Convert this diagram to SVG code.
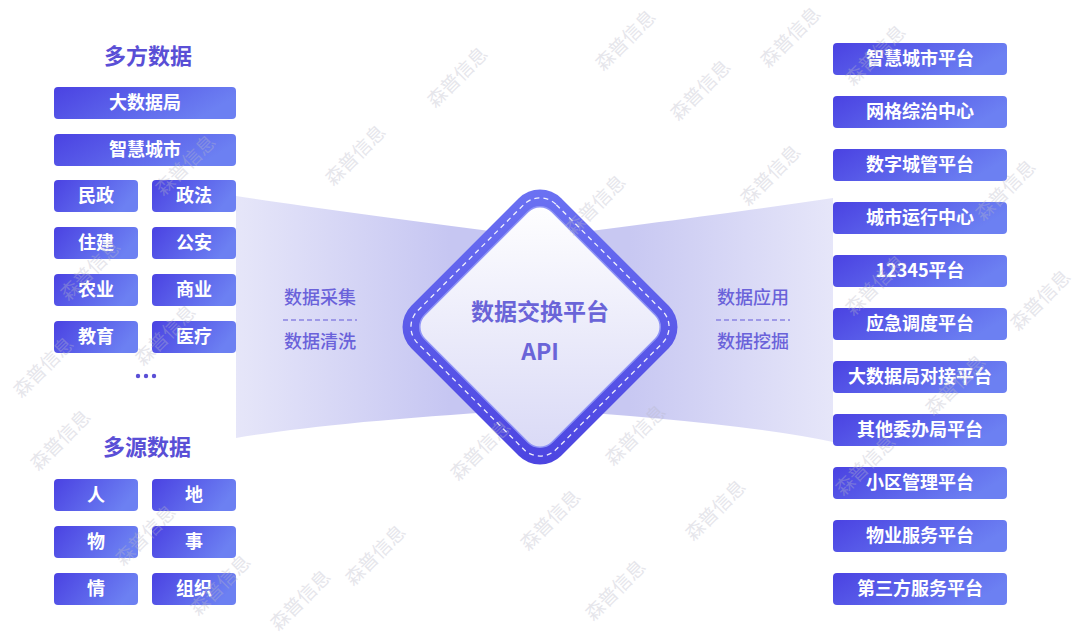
<svg xmlns="http://www.w3.org/2000/svg" width="1080" height="639" viewBox="0 0 1080 639">
<defs>
<linearGradient id="boxg" x1="0" y1="0" x2="1" y2="0.3">
<stop offset="0" stop-color="#4a42e2"/>
<stop offset="1" stop-color="#6c80f2"/>
</linearGradient>
<linearGradient id="bandL" gradientUnits="userSpaceOnUse" x1="236" y1="0" x2="450" y2="0">
<stop offset="0" stop-color="#e6e6f9"/>
<stop offset="1" stop-color="#c6c6f2"/>
</linearGradient>
<linearGradient id="bandR" gradientUnits="userSpaceOnUse" x1="833" y1="0" x2="630" y2="0">
<stop offset="0" stop-color="#e6e6f9"/>
<stop offset="1" stop-color="#c8c8f2"/>
</linearGradient>
<linearGradient id="rimg" x1="0" y1="0" x2="1" y2="1">
<stop offset="0" stop-color="#6c73f3"/>
<stop offset="1" stop-color="#4b43e0"/>
</linearGradient>
<linearGradient id="innerg" x1="0" y1="0" x2="1" y2="1">
<stop offset="0" stop-color="#ffffff"/>
<stop offset="1" stop-color="#d9d9f6"/>
</linearGradient>
<style>
.box{fill:url(#boxg);}
.bt{font-family:"Noto Sans CJK SC","Liberation Sans",sans-serif;font-weight:700;font-size:18px;fill:#ffffff;text-anchor:middle;}
.title{font-family:"Noto Sans CJK SC","Liberation Sans",sans-serif;font-weight:700;font-size:22px;fill:#5a4fd6;text-anchor:middle;}
.lab{font-family:"Noto Sans CJK SC","Liberation Sans",sans-serif;font-weight:500;font-size:18px;fill:#6a62da;text-anchor:middle;}
.ctr{font-family:"Noto Sans CJK SC","Liberation Sans",sans-serif;font-weight:700;font-size:23px;fill:#6a64d8;text-anchor:middle;}
.dl{stroke:#8a84e2;stroke-width:1.3;stroke-dasharray:5 3;fill:none;}
.wm{font-family:"Noto Sans CJK SC","Liberation Sans",sans-serif;font-size:19px;fill:#b8b8c8;opacity:0.35;text-anchor:middle;}
</style>
</defs>
<rect width="1080" height="639" fill="#ffffff"/>

<g id="connectors">
<path d="M236,196 Q340,212 560,240 L560,408 Q340,420 236,438 Z" fill="url(#bandL)"/>
<path d="M833,198 Q740,212 520,240 L520,408 Q740,422 833,442 Z" fill="url(#bandR)"/>
</g>

<g id="label-left">
<text class="lab" x="320" y="304">数据采集</text>
<line class="dl" x1="283" y1="320" x2="357" y2="320"/>
<text class="lab" x="320" y="348">数据清洗</text>
</g>
<g id="label-right">
<text class="lab" x="753" y="304">数据应用</text>
<line class="dl" x1="716" y1="320" x2="790" y2="320"/>
<text class="lab" x="753" y="348">数据挖掘</text>
</g>

<g id="hub">
<g transform="translate(540,327) rotate(45)">
<rect x="-106" y="-106" width="212" height="212" rx="30" fill="url(#rimg)"/>
<rect x="-98" y="-98" width="196" height="196" rx="23" fill="none" stroke="#ffffff" stroke-width="1.3" stroke-dasharray="5 4" opacity="0.9"/>
<rect x="-90" y="-90" width="180" height="180" rx="17" fill="url(#innerg)" stroke="#8f94f6" stroke-width="1.5"/>
</g>
<text class="ctr" x="540" y="320">数据交换平台</text>
<text class="ctr" x="540" y="360">API</text>
</g>

<g id="group-multi-party">
<text class="title" x="148" y="64">多方数据</text>
<g id="n-dsjj"><rect class="box" x="54" y="87" width="182" height="32" rx="4"/><text class="bt" x="145" y="109">大数据局</text></g>
<g id="n-zhcs"><rect class="box" x="54" y="134" width="182" height="32" rx="4"/><text class="bt" x="145" y="156">智慧城市</text></g>
<g id="n-mz"><rect class="box" x="54" y="180" width="84" height="32" rx="4"/><text class="bt" x="96" y="202">民政</text></g>
<g id="n-zf"><rect class="box" x="152" y="180" width="84" height="32" rx="4"/><text class="bt" x="194" y="202">政法</text></g>
<g id="n-zj"><rect class="box" x="54" y="227" width="84" height="32" rx="4"/><text class="bt" x="96" y="249">住建</text></g>
<g id="n-ga"><rect class="box" x="152" y="227" width="84" height="32" rx="4"/><text class="bt" x="194" y="249">公安</text></g>
<g id="n-ny"><rect class="box" x="54" y="274" width="84" height="32" rx="4"/><text class="bt" x="96" y="296">农业</text></g>
<g id="n-sy"><rect class="box" x="152" y="274" width="84" height="32" rx="4"/><text class="bt" x="194" y="296">商业</text></g>
<g id="n-jy"><rect class="box" x="54" y="321" width="84" height="32" rx="4"/><text class="bt" x="96" y="343">教育</text></g>
<g id="n-yl"><rect class="box" x="152" y="321" width="84" height="32" rx="4"/><text class="bt" x="194" y="343">医疗</text></g>
<g id="n-more" fill="#5a4fd6"><circle cx="138" cy="376" r="2.2"/><circle cx="146" cy="376" r="2.2"/><circle cx="154" cy="376" r="2.2"/></g>
</g>

<g id="group-multi-source">
<text class="title" x="147" y="455">多源数据</text>
<g id="n-ren"><rect class="box" x="54" y="479" width="84" height="32" rx="4"/><text class="bt" x="96" y="501">人</text></g>
<g id="n-di"><rect class="box" x="152" y="479" width="84" height="32" rx="4"/><text class="bt" x="194" y="501">地</text></g>
<g id="n-wu"><rect class="box" x="54" y="526" width="84" height="32" rx="4"/><text class="bt" x="96" y="548">物</text></g>
<g id="n-shi"><rect class="box" x="152" y="526" width="84" height="32" rx="4"/><text class="bt" x="194" y="548">事</text></g>
<g id="n-qing"><rect class="box" x="54" y="573" width="84" height="32" rx="4"/><text class="bt" x="96" y="595">情</text></g>
<g id="n-zz"><rect class="box" x="152" y="573" width="84" height="32" rx="4"/><text class="bt" x="194" y="595">组织</text></g>
</g>

<g id="group-apps">
<g id="r1"><rect class="box" x="833" y="43" width="174" height="32" rx="4"/><text class="bt" x="920" y="65">智慧城市平台</text></g>
<g id="r2"><rect class="box" x="833" y="96" width="174" height="32" rx="4"/><text class="bt" x="920" y="118">网格综治中心</text></g>
<g id="r3"><rect class="box" x="833" y="149" width="174" height="32" rx="4"/><text class="bt" x="920" y="171">数字城管平台</text></g>
<g id="r4"><rect class="box" x="833" y="202" width="174" height="32" rx="4"/><text class="bt" x="920" y="224">城市运行中心</text></g>
<g id="r5"><rect class="box" x="833" y="255" width="174" height="32" rx="4"/><text class="bt" x="920" y="277">12345平台</text></g>
<g id="r6"><rect class="box" x="833" y="308" width="174" height="32" rx="4"/><text class="bt" x="920" y="330">应急调度平台</text></g>
<g id="r7"><rect class="box" x="833" y="361" width="174" height="32" rx="4"/><text class="bt" x="920" y="383">大数据局对接平台</text></g>
<g id="r8"><rect class="box" x="833" y="414" width="174" height="32" rx="4"/><text class="bt" x="920" y="436">其他委办局平台</text></g>
<g id="r9"><rect class="box" x="833" y="467" width="174" height="32" rx="4"/><text class="bt" x="920" y="489">小区管理平台</text></g>
<g id="r10"><rect class="box" x="833" y="520" width="174" height="32" rx="4"/><text class="bt" x="920" y="542">物业服务平台</text></g>
<g id="r11"><rect class="box" x="833" y="573" width="174" height="32" rx="4"/><text class="bt" x="920" y="595">第三方服务平台</text></g>
</g>

<g id="watermarks">
<text class="wm" transform="translate(360,160) rotate(-45)">森普信息</text>
<text class="wm" transform="translate(462,82) rotate(-45)">森普信息</text>
<text class="wm" transform="translate(630,45) rotate(-45)">森普信息</text>
<text class="wm" transform="translate(795,42) rotate(-45)">森普信息</text>
<text class="wm" transform="translate(705,95) rotate(-45)">森普信息</text>
<text class="wm" transform="translate(880,60) rotate(-45)">森普信息</text>
<text class="wm" transform="translate(190,170) rotate(-45)">森普信息</text>
<text class="wm" transform="translate(95,275) rotate(-45)">森普信息</text>
<text class="wm" transform="translate(48,372) rotate(-45)">森普信息</text>
<text class="wm" transform="translate(65,445) rotate(-45)">森普信息</text>
<text class="wm" transform="translate(150,540) rotate(-45)">森普信息</text>
<text class="wm" transform="translate(225,590) rotate(-45)">森普信息</text>
<text class="wm" transform="translate(170,340) rotate(-45)">森普信息</text>
<text class="wm" transform="translate(380,560) rotate(-45)">森普信息</text>
<text class="wm" transform="translate(485,455) rotate(-45)">森普信息</text>
<text class="wm" transform="translate(555,525) rotate(-45)">森普信息</text>
<text class="wm" transform="translate(620,595) rotate(-45)">森普信息</text>
<text class="wm" transform="translate(720,515) rotate(-45)">森普信息</text>
<text class="wm" transform="translate(640,440) rotate(-45)">森普信息</text>
<text class="wm" transform="translate(775,180) rotate(-45)">森普信息</text>
<text class="wm" transform="translate(600,210) rotate(-45)">森普信息</text>
<text class="wm" transform="translate(880,290) rotate(-45)">森普信息</text>
<text class="wm" transform="translate(960,390) rotate(-45)">森普信息</text>
<text class="wm" transform="translate(1010,195) rotate(-45)">森普信息</text>
<text class="wm" transform="translate(1045,305) rotate(-45)">森普信息</text>
<text class="wm" transform="translate(870,470) rotate(-45)">森普信息</text>
<text class="wm" transform="translate(305,605) rotate(-45)">森普信息</text>
</g>
</svg>
